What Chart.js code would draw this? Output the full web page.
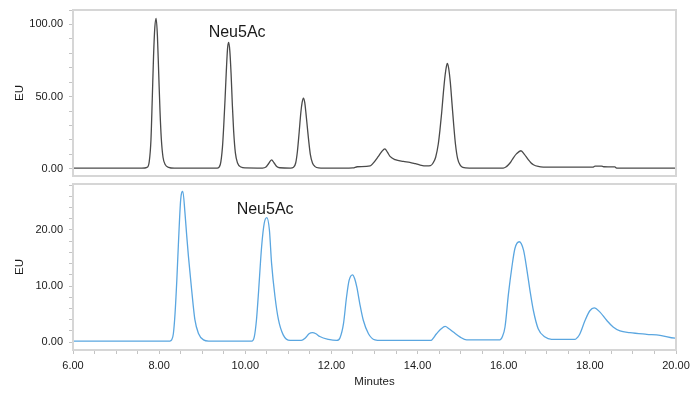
<!DOCTYPE html>
<html>
<head>
<meta charset="utf-8">
<script src="https://cdn.jsdelivr.net/npm/chart.js@4.4.1/dist/chart.umd.min.js"></script>
<style>
  html, body { margin: 0; padding: 0; background: #fff; }
  #wrap { position: relative; width: 700px; height: 397px; overflow: hidden; }
  .panel { position: absolute; left: 0; width: 700px; }
</style>
</head>
<body>
<div id="wrap">
  <div class="panel" style="top:0;height:180px;"><canvas id="top" width="700" height="180"></canvas></div>
  <div class="panel" style="top:180px;height:217px;"><canvas id="bottom" width="700" height="217"></canvas></div>
</div>
<script>
// ---- Data ----
const xRange = [6, 20];          // Minutes
const xMajorStep = 2;            // labelled every 2 min
const topTimes = [6.00,7.00,7.60,7.72,7.77,7.81,7.84,7.87,7.90,7.93,7.96,7.99,8.02,8.05,8.09,8.14,8.22,8.35,9.00,
  9.35,9.42,9.47,9.50,9.53,9.56,9.59,9.615,9.64,9.67,9.70,9.73,9.77,9.82,9.90,10.00,
  10.40,10.48,10.54,10.61,10.67,10.73,10.80,
  11.05,11.12,11.17,11.21,11.25,11.29,11.32,11.35,11.38,11.41,11.44,11.47,11.51,11.56,11.62,11.70,12.00,
  12.50,12.60,12.90,12.97,13.09,13.17,13.24,13.30,13.36,13.48,13.67,13.82,13.95,14.06,14.21,
  14.30,14.36,14.42,14.48,14.52,14.56,14.60,14.64,14.67,14.69,14.72,14.76,14.80,14.84,14.88,14.93,14.99,15.05,15.20,
  15.99,16.05,16.11,16.17,16.22,16.30,16.40,16.48,16.57,16.63,16.69,16.80,16.92,
  18.08,18.12,18.27,18.32,18.58,18.62,20.00];
const topEU = [0.4,0.4,0.4,1,5,20,48,78,98,104.2,92,66,40,21,8,3,1,0.4,0.4,
  0.5,3,15,30,48,68,84,87.5,82,66,44,26,11,4,1.2,0.6,
  0.5,1.2,3.5,6.2,4,1.6,0.7,
  0.5,1,4,12,25,39,46,49,46,38,29,20,10,4,1.5,0.6,0.4,
  0.6,1.4,2,3.9,8.6,12,13.8,11.5,8.6,6.3,5.1,4.5,3.5,2.6,2,
  2.2,4,8,17,27,39,53,65,71,73,70,60,45,30,17,7,2.5,1,0.5,
  0.5,1.2,2.8,5,7.4,10.5,12.5,10,6.3,4.2,2.8,1.6,1.2,
  1.2,1.9,1.9,1.4,1.3,0.5,0.5];

const bottomTimes = [6.00,8.25,8.29,8.33,8.37,8.41,8.445,8.50,8.55,8.60,8.64,8.68,8.755,8.83,8.91,9.03,9.15,
  10.15,10.21,10.26,10.30,10.38,10.44,10.50,10.56,10.61,10.69,10.77,10.88,11.04,
  11.30,11.40,11.48,11.56,11.64,11.73,11.93,12.12,
  12.20,12.28,12.35,12.41,12.49,12.54,12.59,12.66,12.74,12.86,13.01,13.15,
  14.30,14.44,14.55,14.64,14.73,14.83,14.99,15.14,
  15.91,15.97,16.03,16.11,16.19,16.26,16.36,16.46,16.54,16.61,16.69,16.80,16.96,17.11,
  17.66,17.72,17.77,17.89,18.00,18.10,18.23,18.39,18.54,18.70,18.93,19.32,19.63,19.98,20.00];
const bottomEU = [0.2,0.2,0.4,1.5,5.2,11,17.1,25.4,26.9,23.0,19,15.3,9.3,4.0,1.6,0.4,0.2,
  0.2,1,4,8.1,17.1,21.2,22.2,20.0,14.1,8.1,4.0,1.3,0.3,
  0.3,0.8,1.5,1.7,1.5,1.0,0.5,0.3,
  0.8,3.3,8.0,11.0,12.0,11.3,9.8,6.8,3.9,1.5,0.4,0.3,
  0.3,1.5,2.4,2.8,2.4,1.8,0.9,0.4,
  0.4,1.0,2.7,8.6,13.4,16.7,17.9,16.4,12.8,9.2,5.6,2.4,0.9,0.5,
  0.5,0.9,1.5,3.9,5.6,6.1,5.4,3.9,2.7,2.0,1.7,1.4,1.2,0.7,0.7];

const topYRange = [-5, 110];
const topYMajor = 50;
const bottomYRange = [-1.4, 28.2];
const bottomYMajor = 10;

const peakLabel = 'Neu5Ac';
const topLabelAt = [9.81, 91.5];      // [minutes, EU] of label baseline centre
const bottomLabelAt = [10.46, 22.8];
const xTitle = 'Minutes';
const yTitle = 'EU';

// ---- Rendering ----
const FONT = "'Liberation Sans', Arial, sans-serif";
const TEXT = '#1a1a1a';
const FRAME = '#d6d6d6';
const TICKC = '#c4c4c4';

function pts(xs, ys) { return xs.map((x, i) => ({ x: x, y: ys[i] })); }

function framePlugin(labelAt) {
  return {
    id: 'frameAndLabel',
    afterDraw(chart) {
      const { ctx, chartArea: a, scales } = chart;
      ctx.save();
      ctx.strokeStyle = FRAME;
      ctx.lineWidth = 2;
      ctx.strokeRect(a.left, a.top, a.right - a.left, a.bottom - a.top);
      ctx.fillStyle = TEXT;
      ctx.font = '16px ' + FONT;
      ctx.textAlign = 'center';
      ctx.textBaseline = 'alphabetic';
      ctx.fillText(peakLabel, scales.x.getPixelForValue(labelAt[0]), scales.y.getPixelForValue(labelAt[1]));
      ctx.restore();
    }
  };
}

function majorLabel(step) {
  return function (v) {
    const r = v / step;
    return Math.abs(r - Math.round(r)) < 1e-6 ? Number(v).toFixed(2) : '';
  };
}

function noPad(s) { s.paddingTop = 0; s.paddingBottom = 0; s.paddingLeft = 0; s.paddingRight = 0; }

function makeChart(id, xs, ys, color, yRange, yMinor, yMajor, showX, labelAt) {
  const padding = showX ? { top: 4, right: 24, bottom: 0, left: 0 } : { top: 10, right: 24, bottom: 4, left: 0 };
  return new Chart(document.getElementById(id), {
    type: 'line',
    data: {
      datasets: [{
        data: pts(xs, ys),
        borderColor: color,
        borderWidth: 1.3,
        pointRadius: 0,
        fill: false,
        cubicInterpolationMode: 'monotone'
      }]
    },
    options: {
      responsive: false,
      animation: false,
      devicePixelRatio: 1,
      layout: { padding: padding, autoPadding: false },
      plugins: { legend: { display: false }, tooltip: { enabled: false } },
      scales: {
        x: {
          type: 'linear',
          display: showX,
          min: xRange[0], max: xRange[1],
          afterFit(s) { s.height = showX ? 47 : 0; noPad(s); },
          border: { display: false },
          grid: { display: true, drawOnChartArea: false, drawTicks: true, tickLength: 4, color: TICKC },
          ticks: {
            stepSize: 0.5, includeBounds: false, autoSkip: false, maxRotation: 0,
            padding: 5, color: TEXT, font: { family: FONT, size: 11 },
            callback: majorLabel(xMajorStep)
          },
          title: { display: true, text: xTitle, color: TEXT, font: { family: FONT, size: 11.5 }, padding: { top: 0, bottom: 8.5 } }
        },
        y: {
          type: 'linear',
          min: yRange[0], max: yRange[1],
          afterFit(s) { s.width = 73; noPad(s); },
          border: { display: false },
          grid: { display: true, drawOnChartArea: false, drawTicks: true, tickLength: 4, color: TICKC },
          ticks: {
            stepSize: yMinor, includeBounds: false, autoSkip: false,
            padding: 6, color: TEXT, font: { family: FONT, size: 11 },
            callback: majorLabel(yMajor)
          },
          title: { display: true, text: yTitle, color: TEXT, font: { family: FONT, size: 11.5 }, padding: { top: 13, bottom: 0 } }
        }
      }
    },
    plugins: [framePlugin(labelAt)]
  });
}

makeChart('top', topTimes, topEU, '#4a4a4a', topYRange, 10, topYMajor, false, topLabelAt);
makeChart('bottom', bottomTimes, bottomEU, '#5aa6e0', bottomYRange, 2, bottomYMajor, true, bottomLabelAt);
</script>
</body>
</html>
